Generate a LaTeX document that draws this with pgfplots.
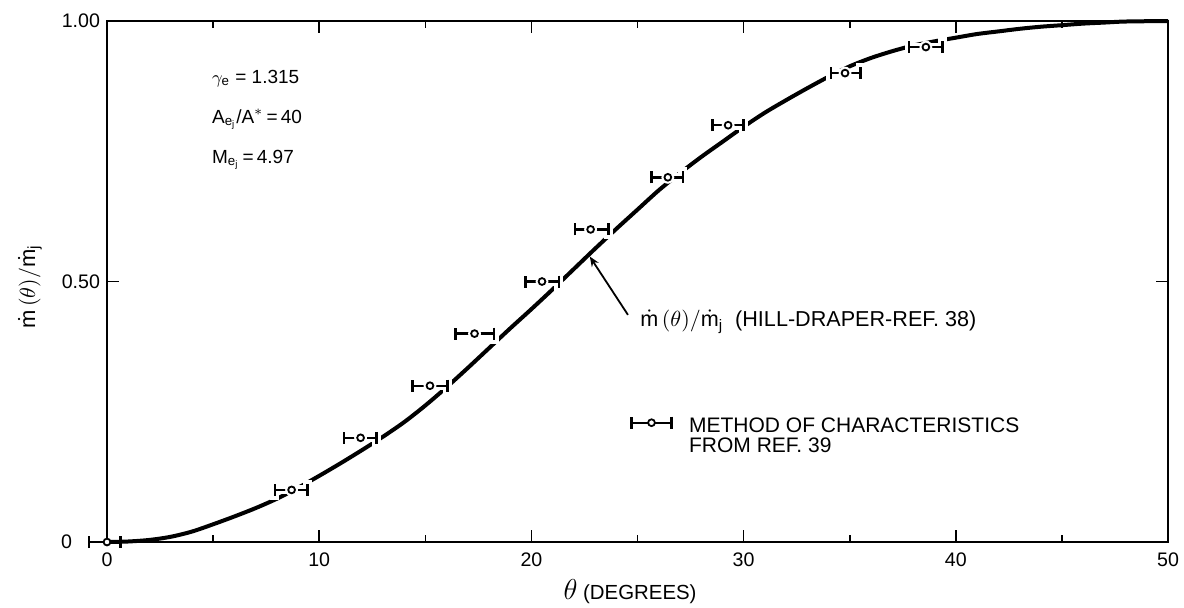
\documentclass[border=0pt]{standalone}
\usepackage{fontspec}
\setmainfont{Liberation Sans}
\usepackage{pgfplots}
\usepackage{pgfplotstable}
\pgfplotsset{compat=1.18}
\usetikzlibrary{arrows.meta}

% Hill-Draper mass-flow distribution
\pgfplotstableread{
x y
0 0
1 0.001
2 0.004
3 0.010
4 0.020
5 0.034
6 0.049
7 0.065
8 0.083
9 0.104
10 0.127
11 0.151
12 0.176
13 0.202
14 0.230
15 0.262
16 0.297
17 0.334
18 0.372
19 0.410
20 0.447
21 0.485
22 0.524
23 0.563
24 0.601
25 0.638
26 0.675
27 0.708
28 0.739
29 0.768
30 0.797
31 0.824
32 0.848
33 0.871
34 0.893
35 0.913
36 0.929
37 0.942
38 0.953
39 0.961
40 0.968
41 0.975
42 0.980
43 0.985
44 0.989
45 0.992
46 0.995
47 0.997
48 0.999
50 1.000
}\hilldraper

% method of characteristics, with the spread in theta
\pgfplotstableread{
x y ep em
0 0 0.64 0.84
8.70 0.10 0.74 0.79
11.95 0.20 0.75 0.79
15.22 0.30 0.83 0.83
17.32 0.40 0.93 0.89
20.50 0.50 0.79 0.77
22.79 0.60 0.85 0.74
26.43 0.70 0.70 0.77
29.27 0.80 0.73 0.74
34.78 0.90 0.72 0.67
38.59 0.95 0.79 0.79
}\moc

\pgfplotstableread{
x y ep em
25.66 0.229 0.95 0.95
}\mockey

\begin{document}
\begin{tikzpicture}
\begin{axis}[
  scale only axis, width=530.5pt, height=260.5pt,
  xmin=0, xmax=50, ymin=0, ymax=1,
  clip=false,
  axis line style={line width=0.8pt},
  tick style={line width=0.8pt, black},
  tick align=inside,
  major tick length=6pt, minor tick length=3.5pt,
  xtick={0,10,...,50}, minor xtick={5,15,...,45},
  xticklabels={0,10,20,30,40,50},
  ytick={0,0.5,1}, yticklabels={{0\rule{14pt}{0pt}},0.50,1.00},
  ticklabel style={font=\fontsize{9.8}{11}\selectfont},
  xticklabel style={yshift=-2pt},
  moc/.style={only marks, mark=*,
    mark options={draw=black, fill=white, line width=0.9pt, mark size=1.7pt},
    error bars/.cd, x dir=both, x explicit,
    error bar style={line width=1.2pt, black},
    error mark options={rotate=90, mark size=3pt, line width=1.2pt, black}},
]
\addplot[line width=2pt, smooth, black] table {\hilldraper};
% white halo that breaks the curve around each symbol (not at the origin)
\addplot[only marks, mark=*, mark options={white, mark size=3pt},
  skip coords between index={0}{1},
  error bars/.cd, x dir=both, x explicit,
  error bar style={line width=4.5pt, white},
  error mark options={rotate=90, mark size=5pt, line width=4.5pt, white}]
  table[x error plus=ep, x error minus=em] {\moc};
\addplot[moc] table[x error plus=ep, x error minus=em] {\moc};
\addplot[moc] table[x error plus=ep, x error minus=em] {\mockey};

\node[anchor=base west, font=\fontsize{10.5}{12}\selectfont]
  at (axis cs:27.1,0.211) {METHOD OF CHARACTERISTICS};
\node[anchor=base west, font=\fontsize{10.5}{12}\selectfont]
  at (axis cs:27.1,0.171) {FROM REF. 39};

\draw[line width=0.9pt, -{Stealth[length=5pt, width=4pt]}]
  (axis cs:24.55,0.436) -- (axis cs:22.75,0.548);
\node[anchor=base west, font=\fontsize{10.8}{12}\selectfont]
  at (axis cs:24.8,0.413)
  {$\dot{\mathrm{m}}\,(\theta)/\dot{\mathrm{m}}_{\mathrm{j}}$\ \ (HILL-DRAPER-REF. 38)};

\node[anchor=base west, font=\fontsize{9.5}{11}\selectfont]
  at (axis cs:4.62,0.881) {$\gamma_{\mathrm{e}}$\;=\;1.315};
\node[anchor=base west, font=\fontsize{9.5}{11}\selectfont]
  at (axis cs:4.62,0.804) {A$_{\mathrm{e}_{\mathrm{j}}}$/A$^{*}$\,=\,40};
\node[anchor=base west, font=\fontsize{9.5}{11}\selectfont]
  at (axis cs:4.62,0.727) {M$_{\mathrm{e}_{\mathrm{j}}}$\,=\,4.97};

\node[rotate=90, font=\fontsize{11}{13}\selectfont]
  at ([xshift=-38.5pt]rel axis cs:0,0.49)
  {$\dot{\mathrm{m}}\,(\theta)/\dot{\mathrm{m}}_{\mathrm{j}}$};
\node[font=\fontsize{10.2}{12}\selectfont]
  at ([yshift=-25pt]rel axis cs:0.493,0)
  {{\Large$\theta$} (DEGREES)};
\end{axis}
\pgfresetboundingbox
\useasboundingbox ([shift={(-53.5pt,-32.5pt)}]current axis.south west)
  rectangle ([shift={(8pt,10.5pt)}]current axis.north east);
\end{tikzpicture}
\end{document}
